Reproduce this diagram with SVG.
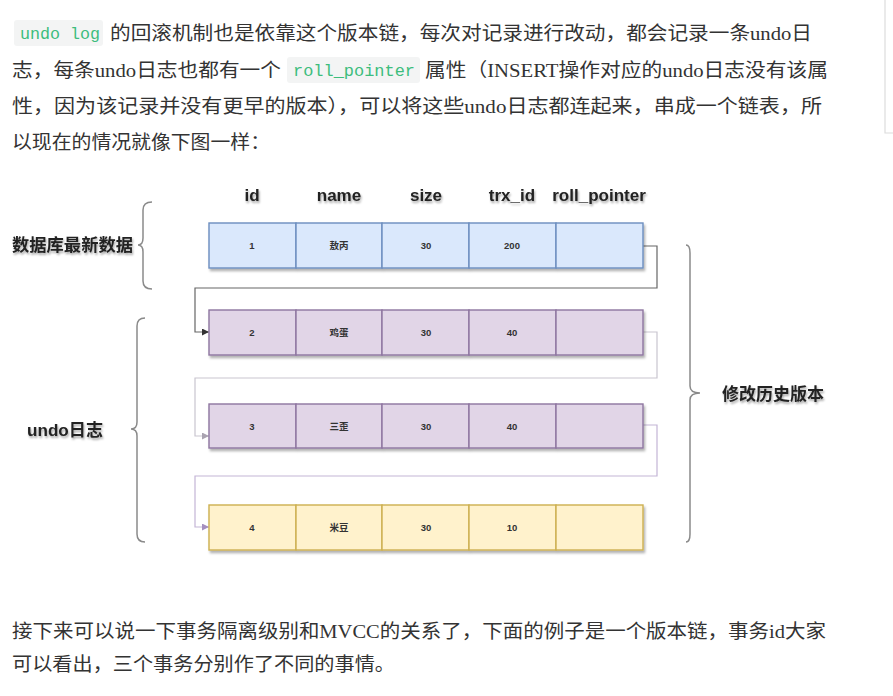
<svg xmlns="http://www.w3.org/2000/svg" width="893" height="696" viewBox="0 0 893 696">
<style>
.p{font-family:"Liberation Serif","Noto Sans CJK SC",serif;font-size:19px;fill:#333}
.code{font-family:"Liberation Mono","DejaVu Sans Mono",monospace;font-size:16.5px;fill:#3dbd7d}
.cbg{fill:#f3f4f4}
.hd{font-family:"Liberation Sans","Noto Sans CJK SC",sans-serif;font-size:17px;font-weight:bold;fill:#222;text-anchor:middle}
.lb{font-family:"Liberation Sans","Noto Sans CJK SC",sans-serif;font-size:17px;font-weight:bold;fill:#222}
.ct{font-family:"Liberation Sans","Noto Sans CJK SC",sans-serif;font-size:9.5px;font-weight:bold;fill:#333;text-anchor:middle}
.blue{fill:#dae8fc;stroke:#6c8ebf;stroke-width:1.4}
.purple{fill:#e1d5e7;stroke:#8e75a0;stroke-width:1.4}
.yellow{fill:#fff2cc;stroke:#cdb050;stroke-width:1.4}
.brace{fill:none;stroke:#8a8a8a;stroke-width:1.5}
.conn{fill:none;stroke-width:1.2}
</style>
<defs>
<filter id="sh" x="-5%" y="-20%" width="110%" height="150%">
<feDropShadow dx="1.5" dy="2.5" stdDeviation="1.2" flood-color="#000" flood-opacity="0.3"/>
</filter>
<filter id="tsh" x="-10%" y="-30%" width="120%" height="170%">
<feDropShadow dx="1" dy="2" stdDeviation="1.2" flood-color="#000" flood-opacity="0.35"/>
</filter>
<marker id="a1" viewBox="0 0 10 10" refX="10" refY="5" markerWidth="7" markerHeight="7" orient="auto" markerUnits="userSpaceOnUse"><path d="M0,0 L10,5 L0,10 z" fill="#333"/></marker>
<marker id="a2" viewBox="0 0 10 10" refX="10" refY="5" markerWidth="7" markerHeight="7" orient="auto" markerUnits="userSpaceOnUse"><path d="M0,0 L10,5 L0,10 z" fill="#a9a3b0"/></marker>
<marker id="a3" viewBox="0 0 10 10" refX="10" refY="5" markerWidth="7" markerHeight="7" orient="auto" markerUnits="userSpaceOnUse"><path d="M0,0 L10,5 L0,10 z" fill="#a58fc0"/></marker>
</defs>
<rect width="893" height="696" fill="#fff"/>
<path d="M885,0 L885,133 L893,133" fill="none" stroke="#dcdcdc" stroke-width="1.2"/>

<g id="paragraph-top">
<rect class="cbg" x="14" y="20" width="89" height="26" rx="3"/>
<text class="code" x="20" y="39" textLength="80" lengthAdjust="spacingAndGlyphs">undo log</text>
<text class="p" x="110" y="40" textLength="702" lengthAdjust="spacingAndGlyphs">的回滚机制也是依靠这个版本链，每次对记录进行改动，都会记录一条undo日</text>
<text class="p" x="12" y="77" textLength="269" lengthAdjust="spacingAndGlyphs">志，每条undo日志也都有一个</text>
<rect class="cbg" x="287" y="57" width="133" height="26" rx="3"/>
<text class="code" x="293" y="76" textLength="122" lengthAdjust="spacingAndGlyphs">roll_pointer</text>
<text class="p" x="425" y="77" textLength="403" lengthAdjust="spacingAndGlyphs">属性（INSERT操作对应的undo日志没有该属</text>
<text class="p" x="12" y="113" textLength="810" lengthAdjust="spacingAndGlyphs">性，因为该记录并没有更早的版本），可以将这些undo日志都连起来，串成一个链表，所</text>
<text class="p" x="12" y="149" textLength="258" lengthAdjust="spacingAndGlyphs">以现在的情况就像下图一样：</text>
</g>

<g id="headers" filter="url(#tsh)">
<text class="hd" x="252" y="201">id</text>
<text class="hd" x="339" y="201">name</text>
<text class="hd" x="426" y="201">size</text>
<text class="hd" x="512" y="201">trx_id</text>
<text class="hd" x="599" y="201">roll_pointer</text>
</g>

<g id="connectors">
<path class="conn" stroke="#666" d="M643,246 H657 V288 H195 V332 H209" marker-end="url(#a1)"/>
<path class="conn" stroke="#c9c5cf" d="M643,332 H657 V378 H195 V436 H209" marker-end="url(#a2)"/>
<path class="conn" stroke="#c3b5d6" d="M643,425 H657 V476 H195 V527 H209" marker-end="url(#a3)"/>
</g>

<g id="row1">
<g filter="url(#sh)">
<rect class="blue" x="209" y="223" width="87" height="45"/>
<rect class="blue" x="296" y="223" width="86" height="45"/>
<rect class="blue" x="382" y="223" width="87" height="45"/>
<rect class="blue" x="469" y="223" width="87" height="45"/>
<rect class="blue" x="556" y="223" width="87" height="45"/>
</g>
<text class="ct" x="252" y="249">1</text>
<text class="ct" x="339" y="249">敖丙</text>
<text class="ct" x="426" y="249">30</text>
<text class="ct" x="512" y="249">200</text>
</g>

<g id="row2">
<g filter="url(#sh)">
<rect class="purple" x="209" y="310" width="87" height="45"/>
<rect class="purple" x="296" y="310" width="86" height="45"/>
<rect class="purple" x="382" y="310" width="87" height="45"/>
<rect class="purple" x="469" y="310" width="87" height="45"/>
<rect class="purple" x="556" y="310" width="87" height="45"/>
</g>
<text class="ct" x="252" y="336">2</text>
<text class="ct" x="339" y="336">鸡蛋</text>
<text class="ct" x="426" y="336">30</text>
<text class="ct" x="512" y="336">40</text>
</g>

<g id="row3">
<g filter="url(#sh)">
<rect class="purple" x="209" y="404" width="87" height="44"/>
<rect class="purple" x="296" y="404" width="86" height="44"/>
<rect class="purple" x="382" y="404" width="87" height="44"/>
<rect class="purple" x="469" y="404" width="87" height="44"/>
<rect class="purple" x="556" y="404" width="87" height="44"/>
</g>
<text class="ct" x="252" y="430">3</text>
<text class="ct" x="339" y="430">三歪</text>
<text class="ct" x="426" y="430">30</text>
<text class="ct" x="512" y="430">40</text>
</g>

<g id="row4">
<g filter="url(#sh)">
<rect class="yellow" x="209" y="505" width="87" height="45"/>
<rect class="yellow" x="296" y="505" width="86" height="45"/>
<rect class="yellow" x="382" y="505" width="87" height="45"/>
<rect class="yellow" x="469" y="505" width="87" height="45"/>
<rect class="yellow" x="556" y="505" width="87" height="45"/>
</g>
<text class="ct" x="252" y="531">4</text>
<text class="ct" x="339" y="531">米豆</text>
<text class="ct" x="426" y="531">30</text>
<text class="ct" x="512" y="531">10</text>
</g>

<g id="label-latest">
<path class="brace" d="M152,202 Q143,202 143,210 L143,238 Q143,245 138,245 Q143,245 143,252 L143,281 Q143,289 152,289"/>
<text class="lb" x="12" y="251" filter="url(#tsh)" textLength="121" lengthAdjust="spacingAndGlyphs">数据库最新数据</text>
</g>

<g id="label-undo">
<path class="brace" d="M145,318 Q137,318 137,326 L137,422 Q137,429 131,429 Q137,429 137,436 L137,534 Q137,542 145,542"/>
<text class="lb" x="27" y="436" filter="url(#tsh)" textLength="76" lengthAdjust="spacingAndGlyphs">undo日志</text>
</g>

<g id="label-history">
<path class="brace" d="M686,245 Q690,245 690,253 L690,386 Q690,393 700,393 Q690,393 690,400 L690,534 Q690,542 686,542"/>
<text class="lb" x="722" y="400" filter="url(#tsh)" textLength="102" lengthAdjust="spacingAndGlyphs">修改历史版本</text>
</g>

<g id="paragraph-bottom">
<text class="p" x="12" y="638" textLength="814" lengthAdjust="spacingAndGlyphs">接下来可以说一下事务隔离级别和MVCC的关系了，下面的例子是一个版本链，事务id大家</text>
<text class="p" x="12" y="671" textLength="383" lengthAdjust="spacingAndGlyphs">可以看出，三个事务分别作了不同的事情。</text>
</g>
</svg>
